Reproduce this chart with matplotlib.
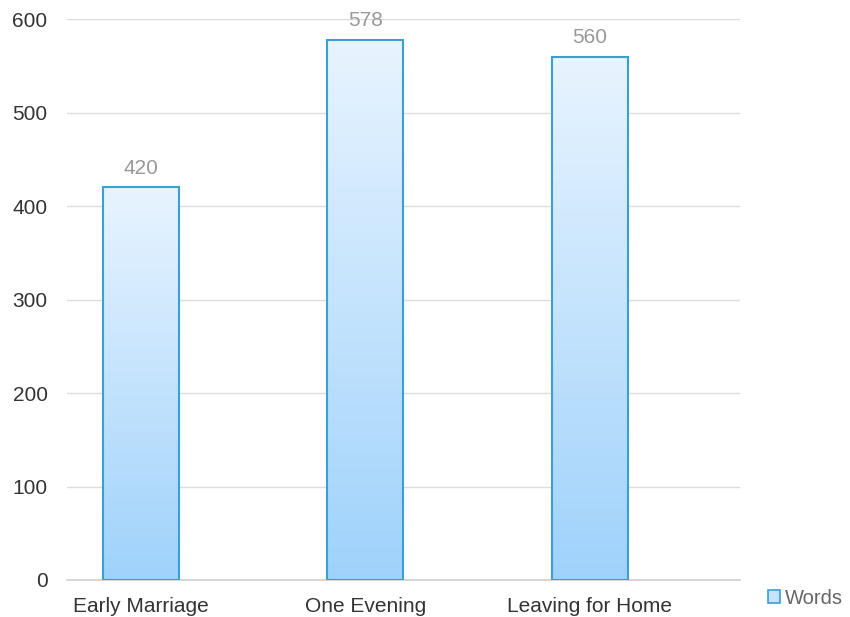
import matplotlib.pyplot as plt
import numpy as np
from matplotlib.colors import LinearSegmentedColormap
from matplotlib.patches import Rectangle

plt.rcParams['font.family'] = ['Liberation Sans', 'DejaVu Sans']

categories = ['Early Marriage', 'One Evening', 'Leaving for Home']
words = [420, 578, 560]
yticks = [0, 100, 200, 300, 400, 500, 600]

fig = plt.figure(figsize=(8.5, 6.17), dpi=100)
ax = fig.add_axes([0.0788, 0.060, 0.7918, 0.909])

cmap = LinearSegmentedColormap.from_list('bar', ['#9fd2fb', '#e8f4ff'])
grad = np.linspace(0, 1, 256).reshape(-1, 1)
width = 0.338

x = np.arange(len(categories))
bars = ax.bar(x, words, width=width, facecolor='none', edgecolor='#3a9fd2',
              linewidth=1.5, zorder=3)
for b in bars:
    x0, y0 = b.get_x(), b.get_y()
    w, h = b.get_width(), b.get_height()
    im = ax.imshow(grad, cmap=cmap, aspect='auto', origin='lower',
                   extent=[x0, x0 + w, y0, y0 + h], zorder=2)
    im.set_clip_path(Rectangle((x0, y0), w, h, transform=ax.transData))
    ax.text(b.get_x() + w / 2, h + 10, str(int(h)), ha='center', va='bottom',
            fontsize=15, color='#999999')

ax.set_xlim(-0.33, 2.67)
ax.set_ylim(0, 600)
ax.set_yticks(yticks)
ax.set_xticks(x)
ax.set_xticklabels(categories)
ax.tick_params(axis='both', length=0, labelsize=15, colors='#333333')
ax.tick_params(axis='y', pad=14)
ax.tick_params(axis='x', pad=12)
for s in ax.spines.values():
    s.set_visible(False)
ax.yaxis.grid(True, color='#dcdcdc', linewidth=1)
ax.axhline(0, color='#cfcfcf', linewidth=1.2, clip_on=False, zorder=1)
ax.set_axisbelow(True)

leg_patch = Rectangle((0, 0), 1, 1, facecolor='#c5e4fc', edgecolor='#3a9fd2', linewidth=1.2)
fig.legend([leg_patch], ['Words'], loc='center left', bbox_to_anchor=(0.882, 0.03),
           frameon=False, fontsize=14.5, handlelength=0.6, handleheight=0.6,
           handletextpad=0.25, labelcolor='#666666')

fig.savefig('out.png', dpi=100)
